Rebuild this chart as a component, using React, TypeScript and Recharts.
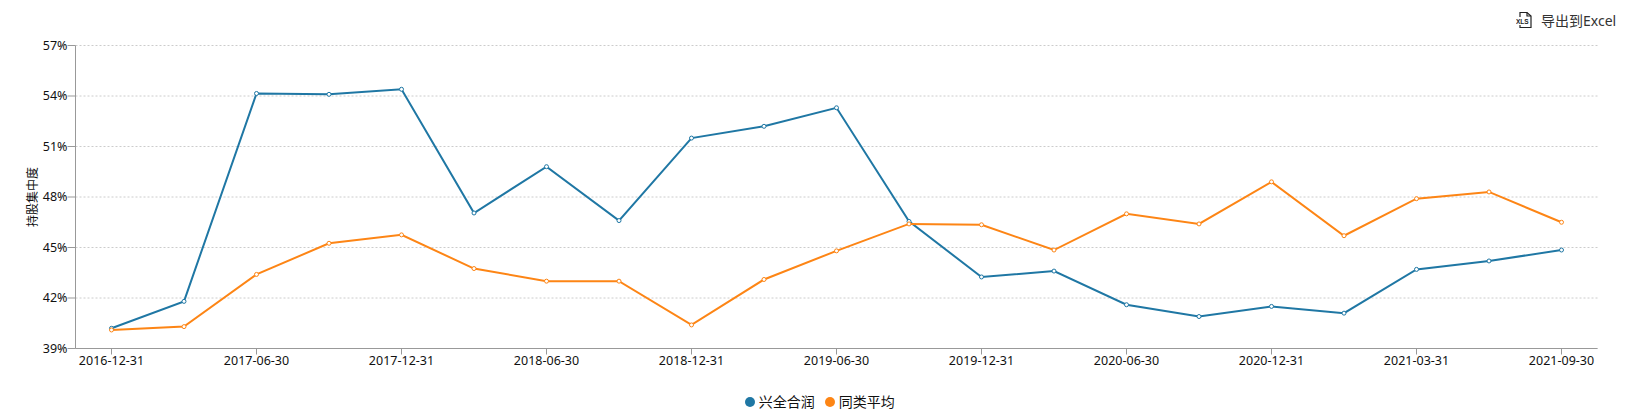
import { CartesianGrid, Legend, Line, LineChart, XAxis, YAxis } from "recharts";

const dates = [
  "2016-12-31", "2017-03-31", "2017-06-30", "2017-09-30", "2017-12-31", "2018-03-31", "2018-06-30",
  "2018-09-30", "2018-12-31", "2019-03-31", "2019-06-30", "2019-09-30", "2019-12-31", "2020-03-31",
  "2020-06-30", "2020-09-30", "2020-12-31", "2021-01-29", "2021-03-31", "2021-06-30", "2021-09-30",
];
const fundValues = [
  40.2, 41.8, 54.15, 54.1, 54.4, 47.05, 49.8, 46.6, 51.5, 52.2, 53.3,
  46.55, 43.25, 43.6, 41.6, 40.9, 41.5, 41.1, 43.7, 44.2, 44.85,
];
const peerValues = [
  40.1, 40.3, 43.4, 45.25, 45.75, 43.75, 43.0, 43.0, 40.4, 43.1, 44.8,
  46.4, 46.35, 44.85, 47.0, 46.4, 48.9, 45.7, 47.9, 48.3, 46.5,
];
const yTicks = [39, 42, 45, 48, 51, 54, 57];

const data = dates.map((date, i) => ({ date, fund: fundValues[i], peer: peerValues[i] }));

const FONT = "'Noto Sans', 'Noto Sans CJK SC', sans-serif";

function ExportButton() {
  return (
    <div style={{ position: "absolute", left: 1516, top: 10, display: "flex", alignItems: "center", fontFamily: FONT, fontSize: 14, color: "#333" }}>
      <svg width="17" height="18" viewBox="0 0 17 18">
        <path d="M4 6V1.5H11L15 5V16.5H4V14" fill="none" stroke="#222" strokeWidth="1.2" />
        <path d="M11 1.5V5H15" fill="none" stroke="#222" strokeWidth="1.2" />
        <text x="0" y="12.5" fontSize="6.5" fontWeight="bold" fill="#222" fontFamily="'Liberation Sans'">XLS</text>
      </svg>
      <span style={{ marginLeft: 8 }}>导出到Excel</span>
    </div>
  );
}

export default function App() {
  return (
    <div style={{ position: "absolute", left: 0, top: 0, width: 1634, height: 417, background: "#fff" }}>
      <ExportButton />
      <LineChart width={1634} height={417} data={data} margin={{ top: 45.5, right: 36.5, bottom: 0, left: 0 }} style={{ fontFamily: FONT }}>
        <CartesianGrid horizontal vertical={false} stroke="#ccc" strokeDasharray="2 2" />
        <XAxis
          dataKey="date"
          interval={1}
          height={32}
          padding={{ left: 36, right: 36 }}
          tick={{ fontSize: 12.5, fill: "#111" }}
          tickSize={6}
          tickLine={{ stroke: "#999" }}
          axisLine={{ stroke: "#999" }}
        />
        <YAxis
          width={75.5}
          domain={[39, 57]}
          ticks={yTicks}
          interval={0}
          tickFormatter={(v: number) => `${v}%`}
          tick={{ fontSize: 12.5, fill: "#111" }}
          tickSize={8}
          tickMargin={0}
          tickLine={{ stroke: "#999" }}
          axisLine={{ stroke: "#999" }}
          label={{ value: "持股集中度", angle: -90, position: "insideLeft", offset: 33, style: { fontSize: 12, fill: "#111", textAnchor: "middle" } }}
        />
        <Legend
          height={36.5}
          verticalAlign="bottom"
          iconType="circle"
          iconSize={10}
          wrapperStyle={{ paddingLeft: 52, paddingTop: 9, boxSizing: "border-box" }}
          formatter={(value: string) => <span style={{ color: "#111", fontSize: 14 }}>{value}</span>}
        />
        <Line
          name="兴全合润"
          dataKey="fund"
          stroke="#1f77a4"
          strokeWidth={2}
          dot={{ r: 2, fill: "#fff", stroke: "#1f77a4", strokeWidth: 1, fillOpacity: 1 }}
          isAnimationActive={false}
        />
        <Line
          name="同类平均"
          dataKey="peer"
          stroke="#fd8515"
          strokeWidth={2}
          dot={{ r: 2, fill: "#fff", stroke: "#fd8515", strokeWidth: 1, fillOpacity: 1 }}
          isAnimationActive={false}
        />
      </LineChart>
    </div>
  );
}
